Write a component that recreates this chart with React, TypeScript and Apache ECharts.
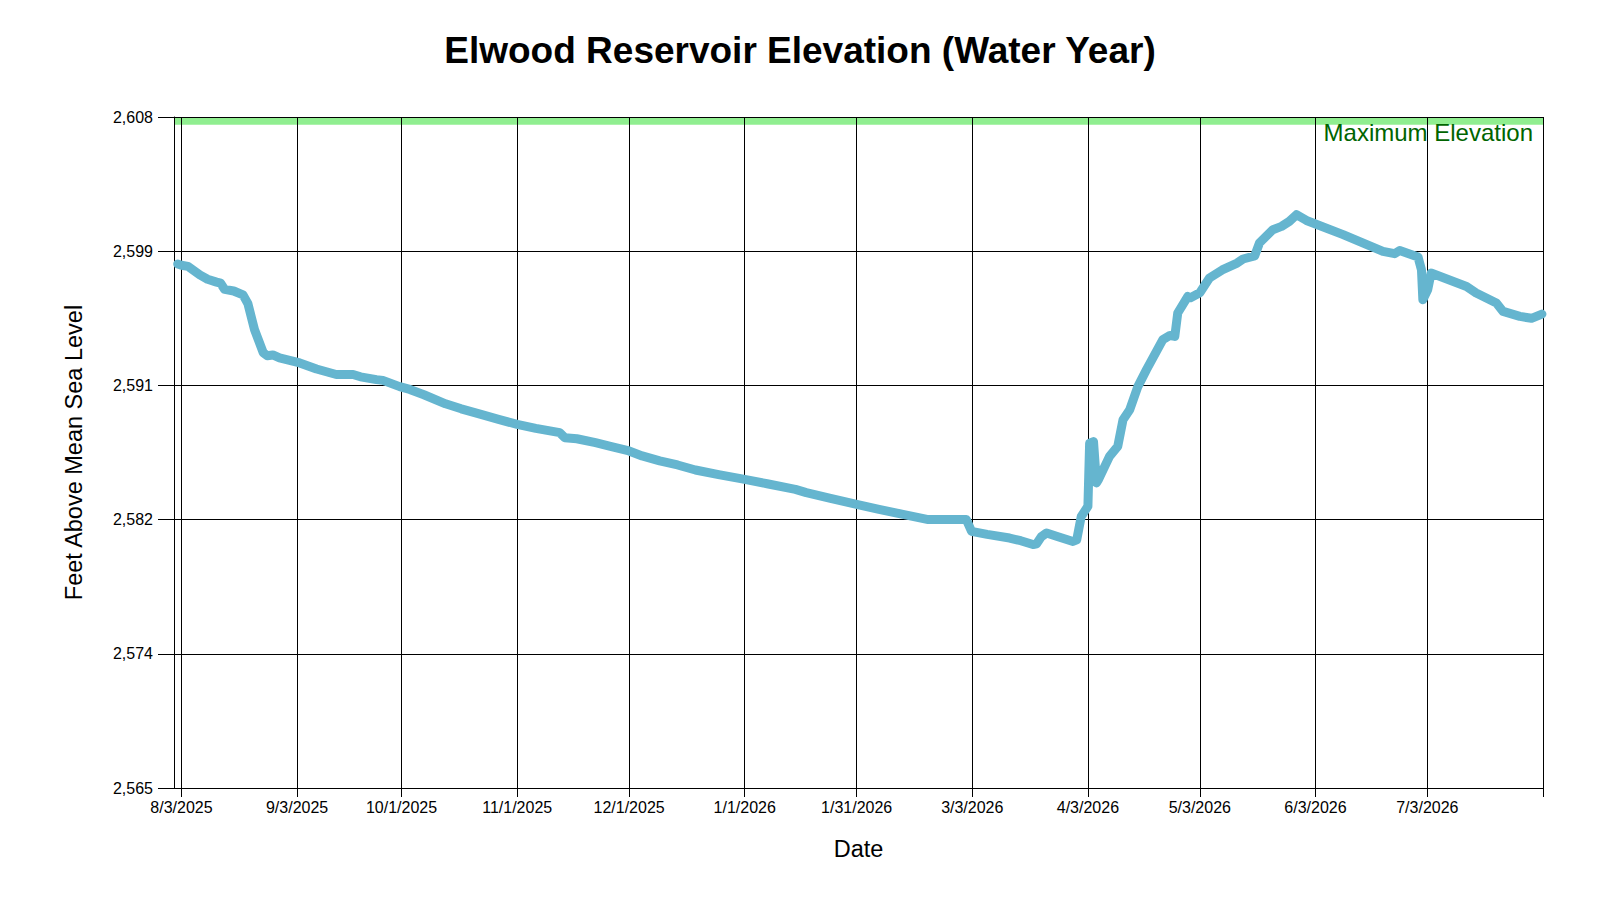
import React, { useEffect, useRef } from "react";
import * as echarts from "echarts";

const TITLE = "Elwood Reservoir Elevation (Water Year)";
const X_NAME = "Date";
const Y_NAME = "Feet Above Mean Sea Level";
const MAX_LABEL = "Maximum Elevation";

const DATES: string[] = [
  "2025-08-02 00:00", "2025-08-03 00:00", "2025-08-04 18:00", "2025-08-07 22:00", "2025-08-10 00:00",
  "2025-08-12 10:00", "2025-08-13 12:00", "2025-08-14 14:00", "2025-08-17 00:00", "2025-08-19 12:00",
  "2025-08-20 19:00", "2025-08-22 14:00", "2025-08-24 22:00", "2025-08-26 00:00", "2025-08-27 12:00",
  "2025-08-29 07:00", "2025-09-03 17:00", "2025-09-08 05:00", "2025-09-13 12:00", "2025-09-18 00:00",
  "2025-09-20 00:00", "2025-09-24 07:00", "2025-09-26 00:00", "2025-09-30 12:00", "2025-10-03 05:00",
  "2025-10-07 00:00", "2025-10-12 19:00", "2025-10-17 00:00", "2025-10-22 07:00", "2025-10-27 00:00",
  "2025-11-01 00:00", "2025-11-06 00:00", "2025-11-12 10:00", "2025-11-13 19:00", "2025-11-17 00:00",
  "2025-11-22 00:00", "2025-11-26 00:00", "2025-12-01 00:00", "2025-12-04 12:00", "2025-12-09 05:00",
  "2025-12-14 00:00", "2025-12-18 19:00", "2025-12-25 00:00", "2026-01-01 00:00", "2026-01-07 00:00",
  "2026-01-14 14:00", "2026-01-17 12:00", "2026-01-24 00:00", "2026-01-31 00:00", "2026-02-06 00:00",
  "2026-02-12 10:00", "2026-02-19 05:00", "2026-03-01 10:00", "2026-03-02 19:00", "2026-03-07 00:00",
  "2026-03-13 00:00", "2026-03-16 00:00", "2026-03-19 07:00", "2026-03-20 06:00", "2026-03-21 12:00",
  "2026-03-22 22:00", "2026-03-26 00:00", "2026-03-30 00:00", "2026-03-31 00:00", "2026-04-01 05:00",
  "2026-04-03 00:00", "2026-04-03 11:00", "2026-04-04 12:00", "2026-04-05 07:00", "2026-04-05 20:00",
  "2026-04-08 19:00", "2026-04-11 00:00", "2026-04-12 10:00", "2026-04-14 05:00", "2026-04-16 10:00",
  "2026-04-18 17:00", "2026-04-23 02:00", "2026-04-25 00:00", "2026-04-26 07:00", "2026-04-27 02:00",
  "2026-04-29 19:00", "2026-04-30 12:00", "2026-05-03 00:00", "2026-05-05 14:00", "2026-05-09 00:00",
  "2026-05-13 00:00", "2026-05-14 14:00", "2026-05-17 17:00", "2026-05-19 00:00", "2026-05-22 14:00",
  "2026-05-24 22:00", "2026-05-27 00:00", "2026-05-28 22:00", "2026-05-31 14:00", "2026-06-10 10:00",
  "2026-06-21 02:00", "2026-06-24 05:00", "2026-06-25 14:00", "2026-06-30 12:00", "2026-07-01 10:00",
  "2026-07-01 19:00", "2026-07-03 02:00", "2026-07-04 00:00", "2026-07-13 12:00", "2026-07-16 02:00",
  "2026-07-21 12:00", "2026-07-23 07:00", "2026-07-27 19:00", "2026-07-30 22:00", "2026-08-02 17:00",
];

const ELEVATIONS: number[] = [
  2598.58, 2598.5, 2598.43, 2597.88, 2597.6,
  2597.42, 2597.35, 2596.95, 2596.85, 2596.6,
  2596.05, 2594.37, 2592.9, 2592.7, 2592.75,
  2592.56, 2592.24, 2591.85, 2591.5, 2591.5,
  2591.35, 2591.17, 2591.12, 2590.72, 2590.54,
  2590.2, 2589.62, 2589.3, 2588.94, 2588.62,
  2588.3, 2588.05, 2587.77, 2587.45, 2587.38,
  2587.13, 2586.9, 2586.6, 2586.28, 2585.96,
  2585.7, 2585.38, 2585.08, 2584.78, 2584.5,
  2584.14, 2583.93, 2583.56, 2583.18, 2582.86,
  2582.54, 2582.2, 2582.2, 2581.45, 2581.25,
  2581.02, 2580.85, 2580.6, 2580.65, 2581.1,
  2581.34, 2581.1, 2580.8, 2580.9, 2582.4,
  2583.05, 2587.1, 2587.2, 2584.55, 2584.76,
  2586.25, 2586.89, 2588.6, 2589.24, 2590.74,
  2591.81, 2593.73, 2594.0, 2593.94, 2595.44,
  2596.5, 2596.42, 2596.74, 2597.68, 2598.2,
  2598.64, 2598.9, 2599.1, 2599.93, 2600.78,
  2600.99, 2601.31, 2601.74, 2601.37, 2600.46,
  2599.39, 2599.24, 2599.45, 2599.03, 2598.21,
  2596.29, 2596.93, 2598.0, 2597.14, 2596.72,
  2596.08, 2595.54, 2595.22, 2595.1, 2595.37,
];

const TICK_DATES: string[] = [
  "2025-08-03", "2025-09-03", "2025-10-01", "2025-11-01", "2025-12-01", "2026-01-01",
  "2026-01-31", "2026-03-03", "2026-04-03", "2026-05-03", "2026-06-03", "2026-07-03",
];
const AXIS_START = "2025-08-01";
const AXIS_END = "2026-08-03";

const Y_MIN = 2565;
const Y_MAX = 2608;
const Y_STEP = 8.6;
const MAX_BAND: number[] = [2607.5, 2608];

const FONT = '"Liberation Sans", Arial, Helvetica, sans-serif';
const LINE_COLOR = "#65b5cf";

function toTs(s: string): number {
  const [d, t] = s.split(" ");
  const [y, m, dd] = d.split("-").map(Number);
  const [hh, mm] = (t || "00:00").split(":").map(Number);
  return Date.UTC(y, m - 1, dd, hh, mm);
}

function fmtDate(v: number): string {
  const d = new Date(v);
  return `${d.getUTCMonth() + 1}/${d.getUTCDate()}/${d.getUTCFullYear()}`;
}

export default function App() {
  const ref = useRef<HTMLDivElement>(null);

  useEffect(() => {
    if (!ref.current) return;
    const chart = echarts.init(ref.current, undefined, { renderer: "svg" });
    const xMin = toTs(AXIS_START);
    const xMax = toTs(AXIS_END);
    const tickVals = TICK_DATES.map(toTs);
    const lineData = DATES.map((d, i) => [toTs(d), ELEVATIONS[i] - Y_MIN]);

    chart.setOption({
      animation: false,
      backgroundColor: "#ffffff",
      title: {
        text: TITLE,
        left: "center",
        top: 32,
        padding: 0,
        textStyle: { fontFamily: FONT, fontWeight: "bold", fontSize: 37, color: "#000" },
      },
      grid: { left: 174, top: 117, right: 57, bottom: 112, containLabel: false },
      xAxis: {
        type: "value",
        min: xMin,
        max: xMax,
        z: 2,
        name: X_NAME,
        nameLocation: "middle",
        nameGap: 49,
        nameTextStyle: { fontFamily: FONT, fontSize: 23.5, color: "#000" },
        axisLine: { show: true, onZero: false, lineStyle: { color: "#000", width: 1 } },
        axisTick: { show: true, length: 9, lineStyle: { color: "#000" }, customValues: tickVals.concat([xMax]) },
        axisLabel: {
          customValues: tickVals,
          formatter: (v: number) => fmtDate(v),
          fontFamily: FONT,
          fontSize: 16,
          color: "#000",
          margin: 11,
        },
        splitLine: { show: true, lineStyle: { color: "#000", width: 1 } },
      },
      yAxis: {
        type: "value",
        min: 0,
        max: Y_MAX - Y_MIN,
        interval: Y_STEP,
        z: 2,
        name: Y_NAME,
        nameLocation: "middle",
        nameGap: 88,
        nameTextStyle: { fontFamily: FONT, fontSize: 23.5, color: "#000" },
        axisLine: { show: true, onZero: false, lineStyle: { color: "#000", width: 1 } },
        axisTick: { show: true, length: 16, lineStyle: { color: "#000" } },
        axisLabel: {
          formatter: (v: number) => Math.round(v + Y_MIN).toLocaleString("en-US"),
          fontFamily: FONT,
          fontSize: 16,
          color: "#000",
          margin: 21,
        },
        splitLine: { show: true, lineStyle: { color: "#000", width: 1 } },
      },
      series: [
        {
          type: "line",
          name: "band",
          data: [],
          z: 0,
          silent: true,
          markArea: {
            silent: true,
            z: 1,
            itemStyle: { color: "#90ee90" },
            label: {
              show: true,
              position: "insideTopRight",
              distance: 3,
              offset: [-7, 0],
              color: "#006400",
              fontFamily: FONT,
              fontSize: 24,
            },
            data: [[{ name: MAX_LABEL, yAxis: MAX_BAND[0] - Y_MIN }, { yAxis: MAX_BAND[1] - Y_MIN }]],
          },
        },
        {
          type: "line",
          name: "Elevation",
          data: lineData,
          z: 3,
          showSymbol: false,
          symbol: "none",
          lineStyle: { color: LINE_COLOR, width: 9, cap: "round", join: "round" },
        },
      ],
    });

    return () => chart.dispose();
  }, []);

  return (
    <div
      ref={ref}
      style={{ position: "fixed", left: 0, top: 0, width: 1600, height: 900, background: "#fff" }}
    />
  );
}
